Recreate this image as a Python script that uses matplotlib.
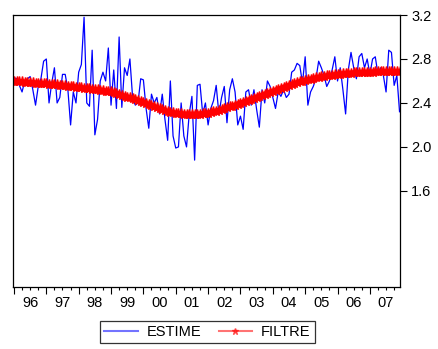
import numpy as np
import matplotlib
matplotlib.use("Agg")
import matplotlib.pyplot as plt

plt.rcParams['font.family'] = ['Liberation Sans', 'DejaVu Sans']

# Séries mensuelles 1996M01 - 2007M12
start_year = 1996
years_lbl = ['96', '97', '98', '99', '00', '01', '02', '03', '04', '05', '06', '07']

estime = [
    2.63, 2.62, 2.56, 2.50, 2.60, 2.62, 2.64, 2.52, 2.38, 2.55, 2.62, 2.78,
    2.80, 2.40, 2.58, 2.72, 2.40, 2.45, 2.66, 2.66, 2.52, 2.20, 2.50, 2.40,
    2.68, 2.75, 3.18, 2.40, 2.37, 2.88, 2.11, 2.25, 2.60, 2.68, 2.60, 2.90,
    2.38, 2.70, 2.35, 3.00, 2.36, 2.72, 2.65, 2.80, 2.45, 2.38, 2.40, 2.62,
    2.61, 2.35, 2.17, 2.48, 2.40, 2.45, 2.30, 2.48, 2.25, 2.06, 2.60, 2.10,
    1.99, 2.00, 2.40, 2.10, 2.00, 2.30, 2.46, 1.88, 2.56, 2.57, 2.30, 2.40,
    2.20, 2.35, 2.42, 2.56, 2.30, 2.45, 2.55, 2.22, 2.52, 2.62, 2.50, 2.20,
    2.28, 2.16, 2.50, 2.52, 2.38, 2.52, 2.34, 2.18, 2.52, 2.40, 2.60, 2.55,
    2.45, 2.35, 2.50, 2.46, 2.52, 2.45, 2.48, 2.68, 2.70, 2.76, 2.74, 2.58,
    2.82, 2.38, 2.50, 2.55, 2.62, 2.78, 2.72, 2.65, 2.55, 2.60, 2.70, 2.82,
    2.60, 2.72, 2.52, 2.30, 2.70, 2.86, 2.72, 2.62, 2.82, 2.85, 2.72, 2.80,
    2.66, 2.80, 2.82, 2.66, 2.72, 2.65, 2.50, 2.88, 2.86, 2.56, 2.65, 2.32,
]

filtre = [
    2.600, 2.600, 2.598, 2.596, 2.594, 2.592, 2.590, 2.588, 2.586, 2.584, 2.582, 2.580,
    2.578, 2.576, 2.574, 2.572, 2.570, 2.567, 2.564, 2.561, 2.558, 2.555, 2.552, 2.549,
    2.546, 2.543, 2.540, 2.537, 2.534, 2.531, 2.528, 2.525, 2.521, 2.517, 2.513, 2.509,
    2.505, 2.498, 2.490, 2.482, 2.474, 2.466, 2.458, 2.450, 2.442, 2.434, 2.426, 2.418,
    2.410, 2.400, 2.390, 2.380, 2.370, 2.360, 2.350, 2.341, 2.333, 2.326, 2.320, 2.315,
    2.311, 2.308, 2.305, 2.303, 2.302, 2.301, 2.300, 2.301, 2.302, 2.304, 2.306, 2.309,
    2.313, 2.318, 2.324, 2.330, 2.337, 2.344, 2.352, 2.360, 2.368, 2.376, 2.385, 2.394,
    2.403, 2.412, 2.421, 2.430, 2.439, 2.448, 2.457, 2.466, 2.475, 2.484, 2.493, 2.502,
    2.511, 2.520, 2.529, 2.538, 2.547, 2.556, 2.565, 2.573, 2.581, 2.589, 2.596, 2.603,
    2.609, 2.615, 2.621, 2.627, 2.632, 2.637, 2.642, 2.646, 2.650, 2.654, 2.658, 2.661,
    2.664, 2.667, 2.670, 2.672, 2.674, 2.676, 2.678, 2.680, 2.681, 2.682, 2.683, 2.684,
    2.685, 2.686, 2.687, 2.688, 2.688, 2.689, 2.689, 2.690, 2.690, 2.690, 2.690, 2.690,
]

t = start_year + np.arange(len(estime)) / 12.0

fig = plt.figure(figsize=(4.39, 3.49), dpi=100)
ax = fig.add_axes([0.0296, 0.178, 0.8815, 0.779])

ax.plot(t, estime, color='#0000ff', lw=0.9, label='ESTIME')
ax.plot(t, filtre, color='#ff0000', lw=3.2, marker='*', ms=6.5, mew=1,
        label='FILTRE')

ax.set_xlim(1995.97, 2007.93)
ax.set_ylim(0.727, 3.2)

# axe Y à droite
ax.yaxis.tick_right()
ax.set_yticks([1.6, 2.0, 2.4, 2.8, 3.2])
ax.set_yticklabels(['1.6', '2.0', '2.4', '2.8', '3.2'])
ax.tick_params(axis='y', direction='out', length=5, width=0.8,
               labelsize=10.5, pad=3, colors='black')

# axe X : années (majeur) et trimestres (mineur)
yrs = np.arange(start_year, start_year + len(years_lbl))
ax.set_xticks(yrs)
ax.set_xticklabels([''] * len(yrs))
quarters = np.arange(start_year, start_year + len(years_lbl), 0.25)
qlabels = []
for q in quarters:
    if abs(q - np.floor(q) - 0.5) < 1e-6:
        qlabels.append(years_lbl[int(np.floor(q)) - start_year])
    else:
        qlabels.append('')
ax.set_xticks(quarters, minor=True)
ax.set_xticklabels(qlabels, minor=True)
ax.tick_params(axis='x', which='major', direction='out', length=5, width=0.8)
ax.tick_params(axis='x', which='minor', direction='out', length=2.5,
               width=0.8, labelsize=10.5, pad=4)

for s in ax.spines.values():
    s.set_linewidth(0.9)
    s.set_color('black')

leg = fig.legend(loc='lower center', bbox_to_anchor=(0.472, -0.005), ncol=2,
                 fontsize=10.5, frameon=True, fancybox=False, edgecolor='black',
                 handlelength=2.3, columnspacing=1.2, borderpad=0.3,
                 handletextpad=0.6)
leg.get_frame().set_linewidth(0.9)
for h in leg.get_lines():
    h.set_alpha(0.55)
    h.set_linewidth(1.5)
leg.get_lines()[1].set_markersize(5)

fig.savefig('out.png', dpi=100)
